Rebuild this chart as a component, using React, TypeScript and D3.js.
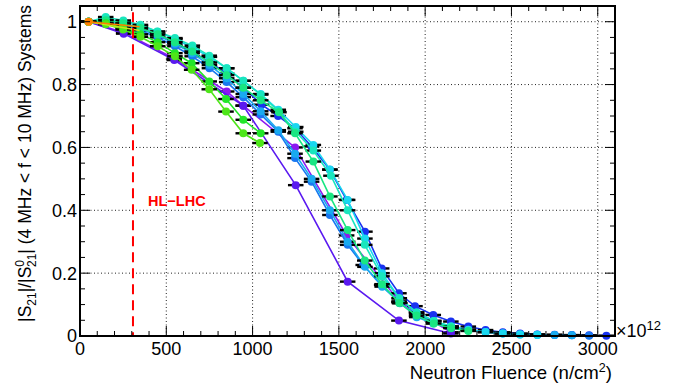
import React from "react";
import * as d3 from "d3";

type Pt = [number, number];

// ---- data (fluence in 1e12 n/cm^2, normalised |S21|) ----
const purple: Pt[] = [[50,1.0],[253,0.966],[546,0.883],[850,0.778],[946,0.733],[1246,0.60],[1545,0.32],[1850,0.11],[2150,0.012]];
const indigo: Pt[] = [[50,1.0],[253,0.962],[546,0.878],[946,0.733],[1250,0.48],[1551,0.173],[1848,0.049],[2149,0.008]];
const blue: Pt[] = [[50,1.0],[150,1.0],[250,0.992],[350,0.978],[450,0.958],[550,0.935],[650,0.905],[750,0.872],[850,0.835],[946,0.79],[1052,0.736],[1148,0.70],[1246,0.661],[1342,0.603],[1448,0.529],[1545,0.433],[1651,0.332],[1748,0.215],[1848,0.136],[1941,0.095],[2047,0.067],[2149,0.046],[2250,0.03],[2350,0.019],[2450,0.012],[2550,0.008],[2650,0.005],[2750,0.004],[2850,0.003],[2950,0.002],[3050,0.001]];
const azure: Pt[] = [[50,1.0],[150,0.998],[250,0.988],[350,0.972],[450,0.95],[550,0.922],[650,0.89],[750,0.852],[850,0.808],[946,0.76],[1047,0.705],[1149,0.65],[1246,0.566],[1342,0.491],[1448,0.385],[1551,0.29],[1641,0.226],[1748,0.162],[1854,0.104],[1951,0.07],[2047,0.045],[2150,0.03],[2250,0.02],[2350,0.013],[2450,0.009],[2550,0.006],[2650,0.004],[2750,0.003],[2850,0.002],[2950,0.001]];
const sky: Pt[] = [[50,1.0],[150,1.002],[250,0.992],[350,0.978],[450,0.957],[550,0.93],[650,0.9],[750,0.862],[850,0.82],[946,0.77],[1047,0.715],[1149,0.655],[1246,0.58],[1342,0.5],[1448,0.4],[1551,0.3],[1651,0.22],[1751,0.157],[1848,0.109],[1951,0.06],[2047,0.04],[2150,0.027],[2250,0.018],[2350,0.012],[2450,0.008],[2550,0.005],[2650,0.004],[2750,0.003],[2850,0.002]];
const cyan: Pt[] = [[50,1.0],[150,1.008],[250,1.0],[350,0.987],[450,0.968],[550,0.945],[650,0.918],[750,0.888],[850,0.852],[946,0.812],[1047,0.77],[1149,0.72],[1250,0.665],[1352,0.608],[1448,0.53],[1551,0.433],[1651,0.31],[1750,0.2],[1850,0.12],[1950,0.075],[2050,0.048],[2150,0.03],[2250,0.02],[2350,0.013],[2450,0.008],[2550,0.005],[2650,0.003]];
const aquamarine: Pt[] = [[50,1.0],[149,1.015],[251,1.004],[350,0.99],[448,0.969],[550,0.948],[651,0.924],[749,0.892],[850,0.852],[946,0.812],[1047,0.768],[1149,0.716],[1250,0.65],[1352,0.59],[1454,0.51],[1551,0.4],[1650,0.29],[1750,0.19],[1850,0.12],[1950,0.075],[2050,0.048],[2150,0.03]];
const spring: Pt[] = [[50,1.0],[150,1.005],[250,0.995],[350,0.98],[450,0.96],[550,0.935],[650,0.905],[750,0.87],[850,0.83],[946,0.79],[1047,0.75],[1153,0.712],[1246,0.645],[1352,0.555],[1448,0.444],[1551,0.337],[1650,0.24],[1750,0.165],[1850,0.105],[1950,0.065],[2050,0.04],[2150,0.025],[2250,0.016]];
const green: Pt[] = [[50,1.0],[150,0.995],[250,0.98],[350,0.96],[450,0.935],[550,0.9],[647,0.868],[749,0.81],[846,0.754],[946,0.688],[1047,0.645]];
const lime: Pt[] = [[50,1.0],[150,0.992],[250,0.975],[350,0.952],[450,0.922],[550,0.89],[647,0.847],[749,0.785],[846,0.714],[946,0.645],[1043,0.614]];
const yellow: Pt[] = [[50,1.0],[345,0.972]];
const orange: Pt[] = [[50,1.0],[345,0.984]];

const seriesData: Pt[][] = [purple, indigo, blue, azure, sky, cyan, aquamarine, spring, green, lime, yellow, orange];
const seriesColors = ["#8c19f0","#5a19f0","#1932f0","#1978f0","#19aaf0","#19d7f0","#19e6be","#19e682","#22e62a","#4ee619","#c8e619","#ff8000"];
const seriesFull = [true,true,true,true,true,true,true,true,true,true,false,false];

const xErr = 45;
const hlLhc = 307;
const xTicks = [0, 500, 1000, 1500, 2000, 2500, 3000];
const yTicks = [0, 0.2, 0.4, 0.6, 0.8, 1];

const W = 689, H = 385;

export default function App() {
  const x = d3.scaleLinear().domain([0, 3100]).range([80, 615]);
  const y = d3.scaleLinear().domain([0, 1.05]).range([336, 6]);
  const line = d3.line<Pt>().x(d => x(d[0])).y(d => y(d[1]));
  const xMinor = d3.range(0, 3101, 100);
  const yMinor = d3.range(0, 1.0501, 0.05);
  const font = "'Liberation Sans', Arial, Helvetica, sans-serif";
  const [x0, x1] = x.range();
  const [y0, y1] = y.range();

  return (
    <div style={{ position: "fixed", left: 0, top: 0 }}>
      <svg width={W} height={H} style={{ display: "block", background: "#fff" }} fontFamily={font}>
        <rect x={0} y={0} width={W} height={H} fill="#fff" />
        {/* grid */}
        {xTicks.filter(t => t > 0).map(t => (
          <line key={"gx" + t} x1={x(t)} x2={x(t)} y1={y0} y2={y1} stroke="#222" strokeWidth={1} strokeDasharray="1,2.5" />
        ))}
        {yTicks.filter(t => t > 0).map(t => (
          <line key={"gy" + t} x1={x0} x2={x1} y1={y(t)} y2={y(t)} stroke="#222" strokeWidth={1} strokeDasharray="1,2.5" />
        ))}
        {/* series */}
        {seriesData.map((s, i) => (
          <g key={"s" + i}>
            <path d={line(s) || ""} fill="none" stroke={seriesColors[i]} strokeWidth={1.6} />
            {seriesFull[i] && s.map((p, j) => (
              <line key={"e" + j} x1={x(p[0] - xErr)} x2={x(p[0] + xErr)} y1={y(p[1])} y2={y(p[1])} stroke="#000" strokeWidth={2.4} />
            ))}
            {s.filter((_, j) => seriesFull[i] || j === 0).map((p, j) => (
              <circle key={"m" + j} cx={x(p[0])} cy={y(p[1])} r={4} fill={seriesColors[i]} />
            ))}
          </g>
        ))}
        {/* HL-LHC line */}
        <line x1={x(hlLhc)} x2={x(hlLhc)} y1={y(1.03)} y2={y(0)} stroke="#ff0000" strokeWidth={2} strokeDasharray="10,6" />
        <text x={148} y={206} fill="#ff0000" fontWeight="bold" fontSize={14.5}>HL−LHC</text>
        {/* frame */}
        <rect x={x0} y={y1} width={x1 - x0} height={y0 - y1} fill="none" stroke="#000" strokeWidth={2} />
        {/* ticks */}
        {xMinor.map(t => {
          const major = t % 500 === 0;
          const len = major ? 10 : 5;
          return (
            <g key={"xt" + t}>
              <line x1={x(t)} x2={x(t)} y1={y0} y2={y0 - len} stroke="#000" strokeWidth={1} />
              <line x1={x(t)} x2={x(t)} y1={y1} y2={y1 + len} stroke="#000" strokeWidth={1} />
            </g>
          );
        })}
        {yMinor.map(t => {
          const major = Math.abs(t * 5 - Math.round(t * 5)) < 1e-6;
          const len = major ? 10 : 5;
          return (
            <g key={"yt" + t.toFixed(2)}>
              <line x1={x0} x2={x0 + len} y1={y(t)} y2={y(t)} stroke="#000" strokeWidth={1} />
              <line x1={x1} x2={x1 - len} y1={y(t)} y2={y(t)} stroke="#000" strokeWidth={1} />
            </g>
          );
        })}
        {xTicks.map(t => (
          <text key={"xl" + t} x={x(t)} y={355} textAnchor="middle" fontSize={18}>{t}</text>
        ))}
        {yTicks.map(t => (
          <text key={"yl" + t} x={77} y={y(t)} dy="0.36em" textAnchor="end" fontSize={18}>{t === 0 ? "0" : t === 1 ? "1" : t.toFixed(1)}</text>
        ))}
        <text x={616} y={337} fontSize={18}>×10<tspan dy={-7} fontSize={13}>12</tspan></text>
        <text x={612} y={379} textAnchor="end" fontSize={18.6}>Neutron Fluence (n/cm<tspan dy={-7} fontSize={12.5}>2</tspan><tspan dy={7}>)</tspan></text>
        <text transform="translate(31,5) rotate(-90)" textAnchor="end" fontSize={17.5}>
          |S<tspan dy={5} fontSize={12}>21</tspan><tspan dy={-5}>|/|S</tspan><tspan dy={-7} fontSize={12}>0</tspan><tspan dx={-7} dy={12} fontSize={12}>21</tspan><tspan dy={-5}>| (4 MHz &lt; f &lt; 10 MHz) Systems</tspan>
        </text>
      </svg>
    </div>
  );
}
